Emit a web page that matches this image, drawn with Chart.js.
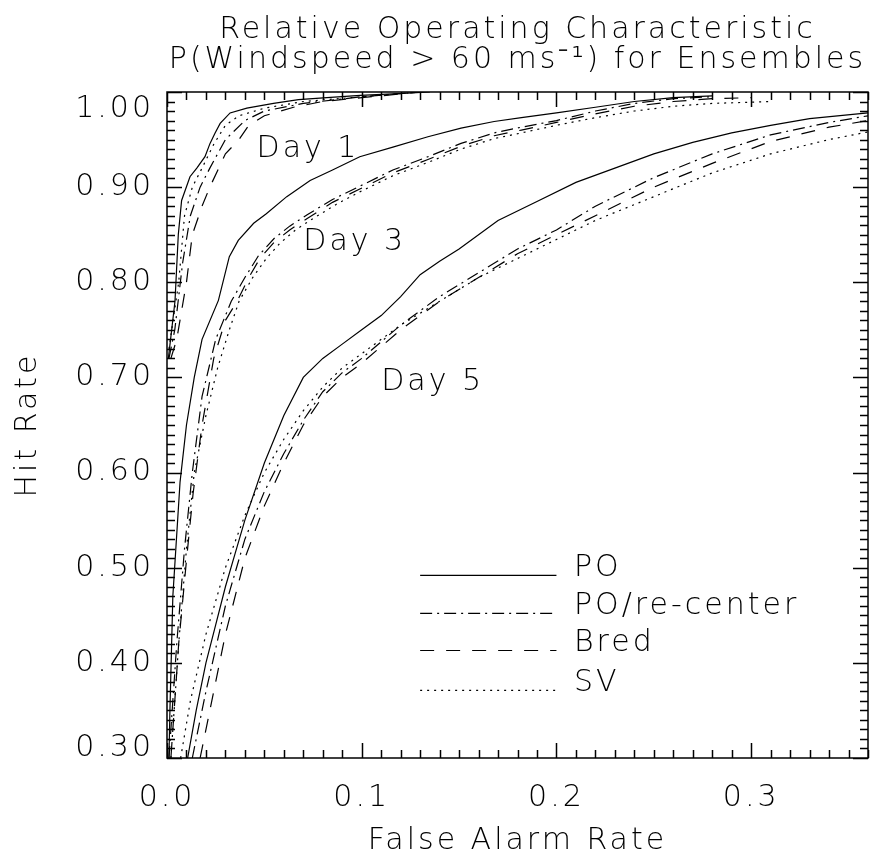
<!DOCTYPE html>
<html>
<head>
<meta charset="utf-8">
<script src="https://cdn.jsdelivr.net/npm/chart.js@4/dist/chart.umd.min.js"></script>
<style>
  html, body { margin: 0; padding: 0; background: #fff; }
  canvas { display: block; }
</style>
</head>
<body>
<canvas id="c" width="880" height="861"></canvas>
<script>
// ---------------- data ----------------
const titleLines = ['Relative Operating Characteristic', 'P(Windspeed > 60 ms\u207B\u00B9) for Ensembles'];
const xTitle = 'False Alarm Rate';
const yTitle = 'Hit Rate';
const xTicks = [0.0, 0.1, 0.2, 0.3];
const yTicks = [0.30, 0.40, 0.50, 0.60, 0.70, 0.80, 0.90, 1.00];
const methods = ['PO', 'PO/re-center', 'Bred', 'SV'];
const dayLabels = ['Day 1', 'Day 3', 'Day 5'];

// Day 1 curves: [false alarm rate, hit rate]
const day1_PO = [[0.0007,0.72],[0.0041,0.78],[0.0058,0.85],[0.0075,0.886],[0.0118,0.911],[0.0153,0.92],[0.0195,0.932],[0.0221,0.946],[0.0247,0.957],[0.0273,0.967],[0.0324,0.978],[0.041,0.983],[0.0547,0.988],[0.0675,0.992],[0.0821,0.994],[0.0993,0.9965],[0.116,0.998],[0.135,1.0]];
const day1_RC = [[0.001,0.72],[0.004,0.75],[0.008,0.82],[0.012,0.87],[0.017,0.90],[0.022,0.92],[0.03,0.95],[0.04,0.97],[0.05,0.98],[0.07,0.988],[0.1,0.995],[0.13,1.0]];
const day1_BR = [[0.002,0.72],[0.005,0.74],[0.01,0.80],[0.013,0.85],[0.018,0.88],[0.022,0.90],[0.03,0.935],[0.037,0.95],[0.042,0.965],[0.05,0.975],[0.065,0.984],[0.08,0.99],[0.1,0.994],[0.13,1.0]];
const day1_SV = [[0.001,0.73],[0.006,0.80],[0.009,0.87],[0.013,0.90],[0.018,0.92],[0.024,0.945],[0.03,0.965],[0.037,0.975],[0.05,0.983],[0.07,0.99],[0.1,0.995],[0.13,1.0]];

// Day 3 curves
const day3_PO = [[0.001,0.30],[0.0015,0.35],[0.003,0.47],[0.0067,0.59],[0.010,0.65],[0.014,0.70],[0.018,0.74],[0.0264,0.781],[0.032,0.827],[0.0366,0.844],[0.0445,0.862],[0.051,0.872],[0.0615,0.89],[0.0735,0.907],[0.085,0.918],[0.099,0.932],[0.116,0.942],[0.134,0.953],[0.151,0.962],[0.168,0.969],[0.182,0.973],[0.2,0.978],[0.22,0.984],[0.24,0.99],[0.26,0.994],[0.28,0.996]];
const day3_RC = [[0.001,0.30],[0.005,0.42],[0.009,0.52],[0.013,0.60],[0.018,0.68],[0.025,0.74],[0.033,0.78],[0.04,0.805],[0.047,0.828],[0.055,0.846],[0.063,0.859],[0.072,0.871],[0.085,0.887],[0.099,0.901],[0.116,0.918],[0.134,0.932],[0.151,0.946],[0.168,0.957],[0.182,0.963],[0.2,0.97],[0.22,0.98],[0.24,0.988],[0.26,0.993],[0.28,0.995]];
const day3_BR = [[0.002,0.30],[0.006,0.42],[0.0101,0.51],[0.0134,0.578],[0.018,0.65],[0.024,0.72],[0.03,0.76],[0.036,0.78],[0.042,0.805],[0.048,0.826],[0.055,0.842],[0.063,0.855],[0.072,0.867],[0.085,0.884],[0.099,0.898],[0.116,0.915],[0.134,0.929],[0.151,0.943],[0.168,0.954],[0.182,0.96],[0.2,0.968],[0.22,0.977],[0.24,0.985],[0.26,0.99],[0.28,0.993],[0.3,0.994]];
const day3_SV = [[0.002,0.30],[0.006,0.42],[0.010,0.52],[0.014,0.60],[0.02,0.66],[0.026,0.71],[0.032,0.75],[0.037,0.78],[0.044,0.805],[0.051,0.825],[0.058,0.841],[0.066,0.855],[0.075,0.867],[0.087,0.882],[0.099,0.895],[0.116,0.912],[0.134,0.926],[0.151,0.94],[0.168,0.951],[0.182,0.957],[0.2,0.965],[0.22,0.973],[0.24,0.98],[0.26,0.985],[0.28,0.988],[0.31,0.99]];

// Day 5 curves
const day5_PO = [[0.0106,0.30],[0.015,0.35],[0.02,0.40],[0.025,0.44],[0.03,0.48],[0.035,0.515],[0.04,0.55],[0.05,0.61],[0.06,0.66],[0.07,0.70],[0.08,0.72],[0.09,0.735],[0.1,0.75],[0.11,0.765],[0.12,0.785],[0.13,0.808],[0.14,0.822],[0.15,0.835],[0.17,0.865],[0.19,0.885],[0.21,0.905],[0.23,0.92],[0.25,0.935],[0.27,0.947],[0.29,0.957],[0.31,0.965],[0.33,0.972],[0.36,0.978]];
const day5_RC = [[0.013,0.30],[0.02,0.37],[0.03,0.46],[0.04,0.53],[0.05,0.58],[0.06,0.62],[0.07,0.655],[0.08,0.685],[0.09,0.705],[0.1,0.72],[0.12,0.755],[0.14,0.785],[0.16,0.81],[0.18,0.835],[0.2,0.855],[0.22,0.88],[0.25,0.91],[0.28,0.935],[0.31,0.955],[0.34,0.968],[0.36,0.975]];
const day5_BR = [[0.017,0.30],[0.022,0.35],[0.03,0.43],[0.04,0.51],[0.05,0.565],[0.06,0.61],[0.07,0.65],[0.08,0.68],[0.09,0.70],[0.1,0.715],[0.12,0.75],[0.14,0.78],[0.16,0.805],[0.18,0.83],[0.2,0.85],[0.22,0.87],[0.25,0.9],[0.28,0.925],[0.31,0.948],[0.34,0.963],[0.36,0.97]];
const day5_SV = [[0.007,0.30],[0.012,0.36],[0.02,0.43],[0.03,0.50],[0.04,0.555],[0.05,0.60],[0.06,0.635],[0.07,0.665],[0.08,0.69],[0.09,0.71],[0.1,0.725],[0.12,0.755],[0.14,0.78],[0.16,0.805],[0.18,0.825],[0.2,0.845],[0.22,0.865],[0.25,0.89],[0.28,0.915],[0.31,0.935],[0.34,0.95],[0.36,0.958]];

// label anchors in data units [x, y]
const dayLabelPos = [[0.046, 0.94], [0.070, 0.842], [0.110, 0.695]];
const legendRows = [0.492, 0.452, 0.413, 0.371];

// ---------------- styling ----------------
const FONT = "'DejaVu Sans', 'Liberation Sans', sans-serif";
const FSIZE = 30;
const FW = '200';
const LS = '3px';
const dashes = { 'PO': [], 'PO/re-center': [12, 5, 2, 5], 'Bred': [14, 12], 'SV': [2, 5] };

const series = [
  ['PO', day1_PO], ['PO/re-center', day1_RC], ['Bred', day1_BR], ['SV', day1_SV],
  ['PO', day3_PO], ['PO/re-center', day3_RC], ['Bred', day3_BR], ['SV', day3_SV],
  ['PO', day5_PO], ['PO/re-center', day5_RC], ['Bred', day5_BR], ['SV', day5_SV]
];

const datasets = series.map(([m, pts]) => ({
  label: m,
  data: pts.map(p => ({ x: p[0], y: p[1] })),
  borderColor: '#000',
  borderWidth: 1.2,
  borderDash: dashes[m],
  pointRadius: 0,
  fill: false,
  tension: 0
}));

const spacingPlugin = {
  id: 'spacing',
  beforeLayout(chart) { chart.ctx.letterSpacing = LS; },
  beforeDraw(chart) { chart.ctx.letterSpacing = LS; }
};

const framePlugin = {
  id: 'frame',
  afterDatasetsDraw(chart) {
    const { ctx, chartArea: a, scales: { x, y } } = chart;
    ctx.save();
    ctx.strokeStyle = '#000';
    ctx.lineWidth = 1.5;
    ctx.setLineDash([]);
    ctx.beginPath();
    ctx.rect(a.left, a.top, a.right - a.left, a.bottom - a.top);
    // x ticks every 0.01, major every 0.1 (inward, bottom and top)
    for (let i = 0; i <= 36; i++) {
      const px = Math.round(x.getPixelForValue(i / 100)) + 0.5;
      const len = (i % 10 === 0) ? 15 : 8;
      ctx.moveTo(px, a.bottom); ctx.lineTo(px, a.bottom - len);
      ctx.moveTo(px, a.top); ctx.lineTo(px, a.top + len);
    }
    // y ticks every 0.01, major every 0.1 (inward, left and right)
    for (let i = 30; i <= 100; i++) {
      const py = Math.round(y.getPixelForValue(i / 100)) + 0.5;
      const len = (i % 10 === 0) ? 15 : 8;
      ctx.moveTo(a.left, py); ctx.lineTo(a.left + len, py);
      ctx.moveTo(a.right, py); ctx.lineTo(a.right - len, py);
    }
    ctx.stroke();

    ctx.fillStyle = '#000';
    ctx.font = `${FW} ${FSIZE}px ${FONT}`;
    ctx.letterSpacing = LS;

    // y tick labels (end labels kept inside the frame height, as in the original)
    ctx.textAlign = 'right';
    yTicks.forEach(v => {
      let py = y.getPixelForValue(v);
      let base = 'middle';
      if (v === yTicks[yTicks.length - 1]) { base = 'top'; py += 2; }
      else if (v === yTicks[0]) { base = 'bottom'; py += 5; }
      ctx.textBaseline = base;
      ctx.fillText(v.toFixed(2), a.left - 13, py);
    });

    // day labels
    ctx.textAlign = 'left';
    ctx.textBaseline = 'middle';
    dayLabels.forEach((t, i) => {
      ctx.fillText(t, x.getPixelForValue(dayLabelPos[i][0]), y.getPixelForValue(dayLabelPos[i][1]));
    });

    // legend
    const lx0 = x.getPixelForValue(0.130), lx1 = x.getPixelForValue(0.200), tx = x.getPixelForValue(0.209);
    methods.forEach((m, i) => {
      const py = y.getPixelForValue(legendRows[i]);
      ctx.beginPath();
      ctx.setLineDash(dashes[m]);
      ctx.lineWidth = 1.2;
      ctx.moveTo(lx0, py); ctx.lineTo(lx1, py);
      ctx.stroke();
      ctx.setLineDash([]);
      ctx.textBaseline = 'alphabetic';
      ctx.fillText(m, tx, py + 1);
    });
    ctx.restore();
  }
};

new Chart(document.getElementById('c'), {
  type: 'line',
  data: { datasets },
  plugins: [spacingPlugin, framePlugin],
  options: {
    responsive: false,
    animation: false,
    devicePixelRatio: 1,
    layout: { padding: { left: 0, right: 12, top: 0, bottom: 0 } },
    plugins: {
      legend: { display: false },
      tooltip: { enabled: false },
      title: {
        display: true,
        fullSize: false,
        text: titleLines,
        color: '#000',
        font: { family: FONT, size: FSIZE, weight: FW, lineHeight: 1.0 },
        padding: { top: 15, bottom: 17 }
      }
    },
    scales: {
      x: {
        type: 'linear',
        min: 0, max: 0.36,
        afterBuildTicks(s) { s.ticks = xTicks.map(v => ({ value: v })); },
        afterFit(s) { s.height = 103; },
        grid: { display: false, drawTicks: false },
        border: { display: false },
        ticks: {
          color: '#000', padding: 22,
          font: { family: FONT, size: FSIZE, weight: FW },
          callback: v => Number(v).toFixed(1),
          maxRotation: 0
        },
        title: {
          display: true, text: xTitle, color: '#000',
          font: { family: FONT, size: FSIZE, weight: FW },
          padding: { top: 0, bottom: 2 }
        }
      },
      y: {
        type: 'linear',
        min: 0.30, max: 1.00,
        afterBuildTicks(s) { s.ticks = yTicks.map(v => ({ value: v })); },
        afterFit(s) { s.width = 167; },
        grid: { display: false, drawTicks: false },
        border: { display: false },
        ticks: { display: false },
        title: {
          display: true, text: yTitle, color: '#000',
          font: { family: FONT, size: FSIZE, weight: FW },
          padding: { top: 10, bottom: 0 }
        }
      }
    }
  }
});
</script>
</body>
</html>
